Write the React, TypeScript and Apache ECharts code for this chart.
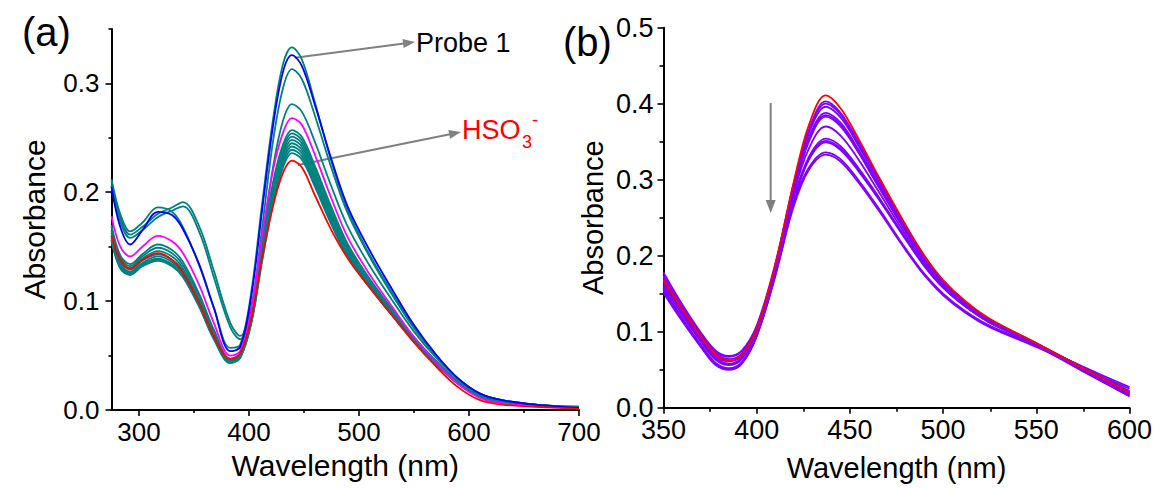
import React, { useEffect, useRef } from "react";
import * as echarts from "echarts";

// ---------- Panel (a) ----------
const WL_A = [275, 283, 292, 303, 317, 330, 340, 355, 368, 383, 392, 402, 412, 422, 431, 439, 448, 460, 475, 490, 510, 530, 550, 570, 590, 610, 630, 660, 700];

const A_T1 = [0.212, 0.180, 0.164, 0.172, 0.186, 0.182, 0.168, 0.132, 0.094, 0.057, 0.060, 0.108, 0.190, 0.268, 0.318, 0.333, 0.322, 0.282, 0.228, 0.183, 0.142, 0.108, 0.076, 0.050, 0.029, 0.015, 0.009, 0.005, 0.002];
const A_S1 = [0.210, 0.177, 0.161, 0.168, 0.180, 0.186, 0.191, 0.168, 0.128, 0.080, 0.068, 0.094, 0.168, 0.248, 0.296, 0.313, 0.304, 0.270, 0.222, 0.180, 0.140, 0.106, 0.075, 0.050, 0.029, 0.015, 0.009, 0.005, 0.003];
const A_S2 = [0.206, 0.173, 0.158, 0.165, 0.177, 0.183, 0.187, 0.163, 0.122, 0.076, 0.065, 0.088, 0.154, 0.224, 0.266, 0.281, 0.274, 0.246, 0.205, 0.168, 0.132, 0.101, 0.072, 0.048, 0.028, 0.014, 0.009, 0.005, 0.003];
const A_T4 = [0.170, 0.142, 0.134, 0.143, 0.152, 0.147, 0.136, 0.106, 0.074, 0.047, 0.052, 0.088, 0.152, 0.210, 0.244, 0.257, 0.251, 0.224, 0.186, 0.152, 0.120, 0.093, 0.067, 0.045, 0.026, 0.013, 0.008, 0.005, 0.002];
const A_T5 = [0.168, 0.140, 0.132, 0.141, 0.149, 0.144, 0.133, 0.104, 0.072, 0.046, 0.051, 0.086, 0.150, 0.207, 0.241, 0.254, 0.248, 0.221, 0.183, 0.150, 0.118, 0.092, 0.066, 0.045, 0.026, 0.013, 0.008, 0.005, 0.002];
const A_T6 = [0.165, 0.138, 0.130, 0.139, 0.146, 0.141, 0.130, 0.101, 0.070, 0.045, 0.050, 0.085, 0.147, 0.204, 0.238, 0.251, 0.245, 0.218, 0.180, 0.148, 0.117, 0.091, 0.066, 0.044, 0.025, 0.013, 0.008, 0.004, 0.002];
const A_T7 = [0.163, 0.136, 0.129, 0.137, 0.143, 0.138, 0.128, 0.099, 0.069, 0.045, 0.050, 0.083, 0.145, 0.201, 0.235, 0.248, 0.242, 0.215, 0.178, 0.146, 0.116, 0.090, 0.065, 0.044, 0.025, 0.012, 0.007, 0.004, 0.002];
const A_T8 = [0.160, 0.134, 0.127, 0.135, 0.141, 0.136, 0.126, 0.098, 0.068, 0.044, 0.049, 0.082, 0.143, 0.198, 0.232, 0.245, 0.239, 0.212, 0.176, 0.145, 0.115, 0.089, 0.064, 0.043, 0.025, 0.012, 0.007, 0.004, 0.002];
const A_T9 = [0.158, 0.132, 0.126, 0.134, 0.139, 0.134, 0.124, 0.096, 0.067, 0.044, 0.049, 0.081, 0.141, 0.196, 0.229, 0.242, 0.236, 0.210, 0.174, 0.143, 0.114, 0.088, 0.064, 0.043, 0.024, 0.012, 0.007, 0.004, 0.002];
const A_T10 = [0.156, 0.131, 0.125, 0.133, 0.138, 0.133, 0.123, 0.095, 0.066, 0.044, 0.048, 0.080, 0.139, 0.193, 0.226, 0.239, 0.233, 0.207, 0.172, 0.142, 0.113, 0.087, 0.063, 0.042, 0.024, 0.012, 0.007, 0.004, 0.002];
const A_T11 = [0.155, 0.130, 0.124, 0.132, 0.137, 0.132, 0.122, 0.094, 0.065, 0.043, 0.048, 0.079, 0.137, 0.190, 0.223, 0.236, 0.230, 0.205, 0.170, 0.140, 0.112, 0.087, 0.063, 0.042, 0.024, 0.012, 0.007, 0.004, 0.002];
const A_MAGENTA = [0.178, 0.150, 0.141, 0.150, 0.160, 0.155, 0.144, 0.114, 0.080, 0.050, 0.054, 0.092, 0.160, 0.221, 0.255, 0.268, 0.262, 0.234, 0.194, 0.158, 0.124, 0.095, 0.067, 0.044, 0.024, 0.011, 0.006, 0.004, 0.002];
const A_BLUE = [0.205, 0.168, 0.152, 0.165, 0.182, 0.179, 0.166, 0.133, 0.094, 0.054, 0.058, 0.104, 0.184, 0.262, 0.311, 0.326, 0.316, 0.280, 0.230, 0.186, 0.146, 0.111, 0.078, 0.051, 0.029, 0.015, 0.009, 0.005, 0.002];
const A_RED = [0.160, 0.138, 0.130, 0.138, 0.144, 0.138, 0.126, 0.098, 0.068, 0.047, 0.052, 0.084, 0.140, 0.188, 0.218, 0.229, 0.223, 0.197, 0.165, 0.139, 0.112, 0.087, 0.062, 0.040, 0.021, 0.009, 0.005, 0.003, 0.001];

const A_TEAL_SET = [A_T11, A_T10, A_T9, A_T8, A_T7, A_T6, A_T5, A_T4, A_S2, A_S1, A_T1];

const X_TICKS_A = [300, 400, 500, 600, 700];
const X_MINOR_A = [350, 450, 550, 650];
const Y_TICKS_A = [0, 0.1, 0.2, 0.3];
const Y_MINOR_A = [0.05, 0.15, 0.25, 0.35];

// ---------- Panel (b) ----------
const WL_B = [350, 360, 370, 378, 385, 392, 400, 410, 420, 428, 437, 445, 455, 465, 480, 490, 500, 512, 525, 550, 575, 600];

const B_P1 = [0.178, 0.136, 0.099, 0.075, 0.068, 0.075, 0.108, 0.190, 0.297, 0.366, 0.403, 0.388, 0.348, 0.303, 0.238, 0.199, 0.167, 0.139, 0.116, 0.085, 0.051, 0.019];
const B_P2 = [0.160, 0.122, 0.088, 0.064, 0.057, 0.065, 0.100, 0.183, 0.293, 0.364, 0.400, 0.386, 0.346, 0.302, 0.237, 0.198, 0.166, 0.138, 0.115, 0.084, 0.050, 0.018];
const B_P3 = [0.172, 0.131, 0.095, 0.071, 0.064, 0.071, 0.105, 0.187, 0.294, 0.361, 0.396, 0.382, 0.343, 0.300, 0.236, 0.197, 0.165, 0.137, 0.114, 0.083, 0.049, 0.016];
const B_P4 = [0.156, 0.117, 0.082, 0.058, 0.051, 0.059, 0.095, 0.178, 0.287, 0.355, 0.388, 0.375, 0.338, 0.296, 0.233, 0.195, 0.164, 0.137, 0.114, 0.083, 0.049, 0.016];
const B_P5 = [0.166, 0.126, 0.090, 0.066, 0.058, 0.066, 0.101, 0.183, 0.289, 0.352, 0.385, 0.372, 0.336, 0.294, 0.232, 0.194, 0.163, 0.136, 0.113, 0.082, 0.048, 0.015];
const B_P6 = [0.154, 0.116, 0.081, 0.057, 0.050, 0.058, 0.094, 0.176, 0.284, 0.350, 0.383, 0.370, 0.334, 0.292, 0.231, 0.193, 0.163, 0.136, 0.113, 0.082, 0.048, 0.015];
const B_P7 = [0.163, 0.123, 0.087, 0.063, 0.056, 0.064, 0.099, 0.180, 0.283, 0.341, 0.370, 0.358, 0.325, 0.286, 0.227, 0.191, 0.161, 0.135, 0.113, 0.083, 0.049, 0.017];
const B_P8 = [0.157, 0.118, 0.083, 0.059, 0.052, 0.060, 0.096, 0.176, 0.275, 0.330, 0.354, 0.344, 0.314, 0.279, 0.223, 0.188, 0.159, 0.134, 0.113, 0.084, 0.052, 0.020];
const B_P9 = [0.170, 0.129, 0.092, 0.068, 0.061, 0.068, 0.102, 0.180, 0.277, 0.328, 0.351, 0.341, 0.312, 0.277, 0.222, 0.187, 0.158, 0.133, 0.112, 0.084, 0.053, 0.021];
const B_P10 = [0.151, 0.114, 0.080, 0.056, 0.050, 0.058, 0.094, 0.173, 0.271, 0.326, 0.349, 0.339, 0.310, 0.276, 0.221, 0.186, 0.158, 0.133, 0.112, 0.084, 0.053, 0.022];
const B_P11 = [0.174, 0.133, 0.097, 0.073, 0.067, 0.074, 0.106, 0.180, 0.270, 0.316, 0.336, 0.327, 0.298, 0.264, 0.209, 0.176, 0.150, 0.127, 0.108, 0.082, 0.054, 0.027];
const B_P12 = [0.167, 0.127, 0.091, 0.068, 0.062, 0.069, 0.102, 0.176, 0.266, 0.313, 0.333, 0.324, 0.295, 0.261, 0.207, 0.174, 0.148, 0.125, 0.106, 0.080, 0.052, 0.025];
const B_RED = [0.168, 0.130, 0.094, 0.070, 0.062, 0.070, 0.104, 0.188, 0.298, 0.372, 0.411, 0.394, 0.352, 0.306, 0.240, 0.200, 0.168, 0.140, 0.117, 0.085, 0.052, 0.020];

const B_PURPLE_SET = [B_P1, B_P2, B_P3, B_P4, B_P5, B_P6, B_P7, B_P8, B_P9, B_P10, B_P11, B_P12];

const X_TICKS_B = [350, 400, 450, 500, 550, 600];
const X_MINOR_B = [375, 425, 475, 525, 575];
const Y_TICKS_B = [0, 0.1, 0.2, 0.3, 0.4, 0.5];
const Y_MINOR_B = [0.05, 0.15, 0.25, 0.35, 0.45];

const FONT = "'Liberation Sans', Arial, Helvetica, sans-serif";
const TEAL = "#008080";
const PURPLE = "#8000FF";

function pairs(xs: number[], ys: number[]) {
  return xs.map((x, i) => [x, ys[i]]);
}

function lineSeries(xs: number[], ys: number[], color: string, idx: number) {
  return {
    type: "line",
    xAxisIndex: idx,
    yAxisIndex: idx,
    data: pairs(xs, ys),
    showSymbol: false,
    symbol: "none",
    smooth: 0.35,
    lineStyle: { color, width: 1.8 },
    silent: true,
  };
}

const black = "#000";

function mainX(gridIndex: number, min: number, max: number, ticks: number[], fs: number, nameFs: number, nameGap: number) {
  return {
    type: "value",
    gridIndex,
    min,
    max,
    axisLine: { show: true, onZero: false, lineStyle: { color: black, width: 2 } },
    axisTick: { show: true, inside: false, length: 6, customValues: ticks, lineStyle: { color: black, width: 1.6 } },
    axisLabel: { show: true, customValues: ticks, color: black, fontSize: fs, fontFamily: FONT, margin: 9 },
    splitLine: { show: false },
    name: "Wavelength (nm)",
    nameLocation: "middle",
    nameGap,
    nameTextStyle: { fontSize: nameFs, fontFamily: FONT, color: black },
  };
}

function mainY(gridIndex: number, min: number, max: number, ticks: number[], fs: number, nameFs: number, nameGap: number, margin: number) {
  return {
    type: "value",
    gridIndex,
    min,
    max,
    axisLine: { show: true, onZero: false, lineStyle: { color: black, width: 2 } },
    axisTick: { show: true, inside: false, length: 6, customValues: ticks, lineStyle: { color: black, width: 1.6 } },
    axisLabel: {
      show: true,
      customValues: ticks,
      color: black,
      fontSize: fs,
      fontFamily: FONT,
      margin,
      formatter: (v: number) => v.toFixed(1),
    },
    splitLine: { show: false },
    name: "Absorbance",
    nameLocation: "middle",
    nameGap,
    nameTextStyle: { fontSize: nameFs, fontFamily: FONT, color: black },
  };
}

function minorAxis(gridIndex: number, min: number, max: number, ticks: number[], len: number) {
  return {
    type: "value",
    gridIndex,
    min,
    max,
    axisLine: { show: false, onZero: false },
    axisTick: { show: true, inside: false, length: len, customValues: ticks, lineStyle: { color: black, width: 1.6 } },
    axisLabel: { show: false },
    splitLine: { show: false },
  };
}

export default function App() {
  const ref = useRef<HTMLDivElement>(null);

  useEffect(() => {
    if (!ref.current) return;
    const chart = echarts.init(ref.current, null, { renderer: "svg" });

    const gridA = { left: 111.5, top: 28.9, width: 467.5, height: 381.1 };
    const gridB = { left: 663.5, top: 27.7, width: 467.2, height: 380 };

    const series: any[] = [];
    A_TEAL_SET.forEach((ys) => series.push(lineSeries(WL_A, ys, TEAL, 0)));
    series.push(lineSeries(WL_A, A_MAGENTA, "#FF00FF", 0));
    series.push(lineSeries(WL_A, A_BLUE, "#0000FF", 0));
    series.push(lineSeries(WL_A, A_RED, "#FF0000", 0));
    B_PURPLE_SET.forEach((ys) => series.push(lineSeries(WL_B, ys, PURPLE, 2)));
    series.push(lineSeries(WL_B, B_RED, "#FF0000", 2));

    const gray = "#808080";

    const option: any = {
      animation: false,
      backgroundColor: "#fff",
      textStyle: { fontFamily: FONT },
      grid: [
        { ...gridA, containLabel: false },
        { ...gridA, containLabel: false },
        { ...gridB, containLabel: false },
        { ...gridB, containLabel: false },
      ],
      xAxis: [
        mainX(0, 275, 700, X_TICKS_A, 26, 30, 40),
        minorAxis(1, 275, 700, X_MINOR_A, 3),
        mainX(2, 350, 600, X_TICKS_B, 27, 29, 46),
        minorAxis(3, 350, 600, X_MINOR_B, 4),
      ],
      yAxis: [
        mainY(0, 0, 0.35, Y_TICKS_A, 26, 30, 62, 12),
        minorAxis(1, 0, 0.35, Y_MINOR_A, 3),
        mainY(2, 0, 0.5, Y_TICKS_B, 27, 29, 56, 10),
        minorAxis(3, 0, 0.5, Y_MINOR_B, 4),
      ],
      series,
      graphic: [
        { type: "text", left: 22, top: 12, style: { text: "(a)", font: `40px ${FONT}`, fill: black } },
        { type: "text", left: 563, top: 22, style: { text: "(b)", font: `40px ${FONT}`, fill: black } },
        { type: "text", x: 416, y: 43, style: { text: "Probe 1", font: `27px ${FONT}`, fill: black, textVerticalAlign: "middle" } },
        { type: "text", x: 462, y: 130, style: { text: "HSO", font: `27px ${FONT}`, fill: "#FF0000", textVerticalAlign: "middle" } },
        { type: "text", x: 522, y: 142, style: { text: "3", font: `18px ${FONT}`, fill: "#FF0000", textVerticalAlign: "middle" } },
        { type: "text", x: 532, y: 120, style: { text: "-", font: `18px ${FONT}`, fill: "#FF0000", textVerticalAlign: "middle" } },
        // arrow to Probe 1
        { type: "line", shape: { x1: 295, y1: 57.7, x2: 404, y2: 43.4 }, style: { stroke: gray, lineWidth: 2 } },
        { type: "polygon", shape: { points: [[415, 42], [403.7, 48.0], [402.5, 39.1]] }, style: { fill: gray } },
        // arrow to HSO3-
        { type: "line", shape: { x1: 298, y1: 165, x2: 450, y2: 134.2 }, style: { stroke: gray, lineWidth: 2 } },
        { type: "polygon", shape: { points: [[461, 132], [450.1, 138.8], [448.4, 130.0]] }, style: { fill: gray } },
        // downward arrow in (b)
        { type: "line", shape: { x1: 770.7, y1: 103, x2: 770.7, y2: 202 }, style: { stroke: gray, lineWidth: 2 } },
        { type: "polygon", shape: { points: [[770.7, 213], [765.7, 200], [775.7, 200]] }, style: { fill: gray } },
      ],
    };

    chart.setOption(option);
    return () => chart.dispose();
  }, []);

  return (
    <div
      ref={ref}
      style={{ position: "absolute", left: 0, top: 0, width: 1155, height: 489, background: "#fff" }}
    />
  );
}
